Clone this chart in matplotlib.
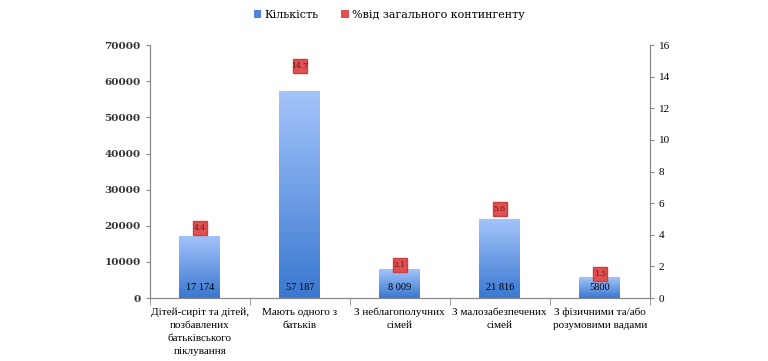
import numpy as np
import matplotlib
matplotlib.use("Agg")
import matplotlib.pyplot as plt
from matplotlib.colors import LinearSegmentedColormap
from matplotlib.patches import Patch

categories = ["Дітей-сиріт та дітей,\nпозбавлених\nбатьківського\nпіклування",
              "Мають одного з\nбатьків",
              "З неблагополучних\nсімей",
              "З малозабезпечених\nсімей",
              "З фізичними та/або\nрозумовими вадами"]
counts = [17174, 57187, 8009, 21816, 5800]
percents = [4.4, 14.7, 2.1, 5.6, 1.5]
count_labels = ["17 174", "57 187", "8 009", "21 816", "5800"]

plt.rcParams['font.family'] = ['DejaVu Serif']
narrow = 'Liberation Serif'

fig = plt.figure(figsize=(7.68, 3.61), dpi=100)
ax = fig.add_axes([0.195, 0.1745, 0.651, 0.7005])
ax2 = ax.twinx()

x = np.arange(len(categories))
bars = ax.bar(x, counts, width=0.41, color="#6fa0e8", zorder=2)

# gradient fill for the bars
cmap = LinearSegmentedColormap.from_list("blu", ["#3a78d0", "#a3c4fa"])
grad = np.linspace(0, 1, 256).reshape(-1, 1)
for b in bars:
    b.set_facecolor("none")
    x0, y0 = b.get_x(), b.get_y()
    im = ax.imshow(grad, cmap=cmap, aspect="auto", origin="lower",
                   extent=[x0, x0 + b.get_width(), y0, y0 + b.get_height()], zorder=2)
    im.set_clip_path(b)

for xi, lab in zip(x, count_labels):
    ax.text(xi, 2800, lab, ha="center", va="center", fontsize=7.5, family=narrow,
            color="black", zorder=3)

ax.set_xlim(-0.5, len(categories) - 0.5)
ax.set_ylim(0, 70000)
ax.set_yticks(np.arange(0, 70001, 10000))
ax2.set_ylim(0, 16)
ax2.set_yticks(np.arange(0, 17, 2))

ax2.plot(x, percents, linestyle="none", marker="s", markersize=10.5,
         markerfacecolor="#e05050", markeredgecolor="#c84040", zorder=4)
for xi, p in zip(x, percents):
    ax2.text(xi, p, str(p), ha="center", va="center", fontsize=5.5, color="#6a1a1a", zorder=5)

ax.set_xticks(x)
ax.set_xticklabels(categories, fontsize=8, family=narrow, linespacing=1.55)
ax.set_xticks(np.arange(-0.5, len(categories)), minor=True)
ax.tick_params(axis="x", which="major", length=0, pad=7)
ax.tick_params(axis="x", which="minor", length=5, color="#888888")
ax.tick_params(axis="y", labelsize=7.5, length=3, color="#888888", labelcolor="#333333")
for t in ax.get_yticklabels():
    t.set_fontweight("bold")
ax2.tick_params(axis="y", labelsize=8, length=3, color="#888888")
for t in ax2.get_yticklabels():
    t.set_family(narrow)

for a in (ax, ax2):
    a.spines["top"].set_visible(False)
    for s in ("left", "right", "bottom"):
        a.spines[s].set_color("#888888")

handles = [Patch(facecolor="#4f86d8", edgecolor="none", label="Кількість"),
           Patch(facecolor="#e05050", edgecolor="none", label="%від загального контингенту")]
fig.legend(handles=handles, loc="upper center", bbox_to_anchor=(0.507, 1.0), ncol=2,
           frameon=False, fontsize=8, handlelength=0.7, handleheight=0.7,
           handletextpad=0.3, columnspacing=2)

fig.savefig("out.png", dpi=100)
